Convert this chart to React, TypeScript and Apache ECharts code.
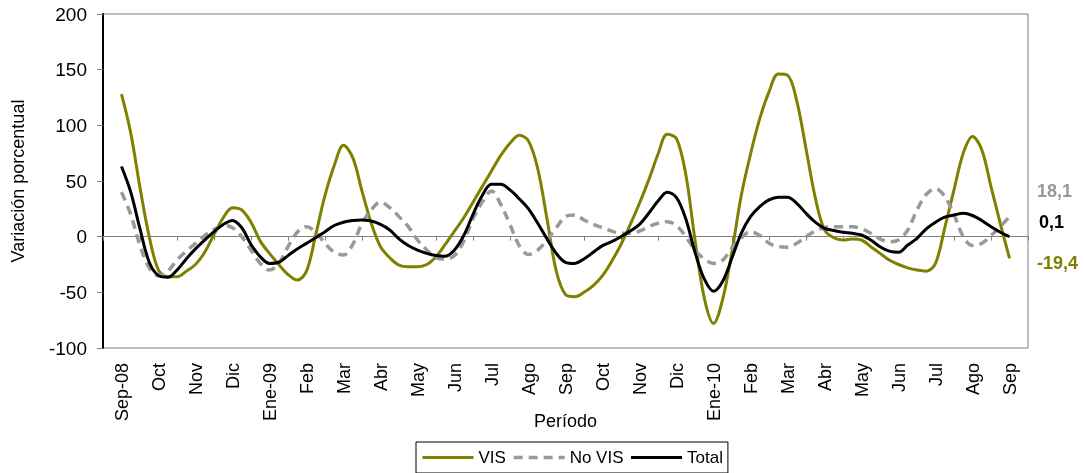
import { useEffect, useRef } from "react";
import * as echarts from "echarts";

// X-axis categories (months)
const months = [
  "Sep-08", "Oct", "Nov", "Dic", "Ene-09", "Feb", "Mar", "Abr", "May", "Jun", "Jul", "Ago",
  "Sep", "Oct", "Nov", "Dic", "Ene-10", "Feb", "Mar", "Abr", "May", "Jun", "Jul", "Ago", "Sep",
];

// Data points are spaced a quarter of a month apart (4 per month)
const STEP = 0.25;

const vis = [
  128, 93, 44, 0,
  -30, -36, -36, -31,
  -25, -14, 2, 17,
  26, 24, 13, -4,
  -15, -25, -34, -39,
  -31, 2, 37, 64,
  82, 71, 41, 12,
  -9, -19, -25.5, -27,
  -27, -25, -18, -7,
  5, 17, 31, 45,
  59, 73, 84, 91,
  86, 61, 16, -31,
  -52, -54, -50, -44,
  -35, -22, -7, 11,
  30, 51, 74, 92,
  88, 56, -3, -55,
  -78, -56, -13, 37,
  74, 106, 130, 146,
  145, 122, 79, 35,
  6, -1, -3, -2,
  -3, -9, -15, -21,
  -25, -28, -30, -31,
  -24, 8, 42, 75,
  90, 78, 45, 12,
  -19.4,
];

const noVis = [
  40, 20, -8, -28,
  -35, -31, -21, -13,
  -6, 1, 6.5, 10,
  8, 0, -12, -24,
  -30, -24, -9, 4,
  9, 4, -6, -14,
  -16.5, -7, 12, 24,
  31, 26, 18, 9,
  -3, -12, -19, -20,
  -17, -4, 16, 31,
  41, 29, 11, -8,
  -16, -12, -3, 8,
  18, 19.5, 15, 11,
  8, 5, 3, 3,
  5, 9, 12, 13.5,
  10, 0, -12, -20,
  -24, -21, -10, -1,
  4.5, 1, -6, -9,
  -9.5, -6, 0, 5,
  8, 9, 9, 9,
  7, 3, -2, -4.5,
  -3, 6, 24, 38,
  43, 36, 20, 0,
  -8, -6, 1, 9,
  18.1,
];

const total = [
  63, 40, 7, -23,
  -35, -36.5, -30, -20,
  -11, -3, 4.5, 11,
  14.5, 8, -7, -18,
  -24, -23, -17, -11,
  -6, -1, 4.5, 10,
  13, 14.5, 15, 14,
  11, 6, -2, -8,
  -12, -15, -17, -17.5,
  -12, 1, 20, 37,
  47, 47, 42, 34,
  25, 12, -2, -15,
  -23, -24, -20, -14,
  -8, -4.5, 0, 5,
  11, 21, 32, 40,
  35, 16, -14, -38,
  -49, -40, -19, 3,
  18, 27, 33, 35.5,
  35.5, 30, 21, 13,
  7.5, 5.5, 4, 3,
  1.5, -3, -9, -13,
  -14, -7.5, -1.5, 7,
  13, 17.5, 19.5, 21,
  19, 14.5, 9, 4,
  0.1,
];

const seriesNames = ["VIS", "No VIS", "Total"];
const lastValues = ["18,1", "0,1", "-19,4"];

const FONT = "'Liberation Sans', Arial, sans-serif";
const OLIVE = "#808000";
const GRAY = "#999999";

export default function App() {
  const ref = useRef<HTMLDivElement>(null);

  useEffect(() => {
    if (!ref.current) return;
    const chart = echarts.init(ref.current, null, { renderer: "svg" });
    const toPts = (arr: number[]) => arr.map((v, i) => [i * STEP, v]);

    const lineSeries = (name: string, arr: number[], lineStyle: any) => ({
      name,
      type: "line",
      xAxisIndex: 2,
      data: toPts(arr),
      smooth: 0.35,
      symbol: "none",
      showSymbol: false,
      lineStyle,
      itemStyle: { color: lineStyle.color },
    });

    chart.setOption({
      animation: false,
      textStyle: { fontFamily: FONT },
      grid: {
        left: 103,
        top: 14,
        width: 925,
        height: 334,
        show: true,
        borderColor: "#808080",
        borderWidth: 1,
      },
      legend: {
        data: seriesNames,
        left: 416,
        top: 442,
        itemWidth: 51,
        itemHeight: 14,
        itemGap: 6,
        padding: [7, 5, 7, 5],
        borderColor: "#000",
        borderWidth: 1,
        borderRadius: 0,
        itemStyle: { opacity: 0 },
        lineStyle: { width: "inherit" },
        textStyle: { fontSize: 17, color: "#000", fontFamily: FONT },
      },
      xAxis: [
        {
          type: "category",
          data: months,
          boundaryGap: true,
          position: "bottom",
          axisLine: { show: false, onZero: false },
          axisTick: { show: false },
          axisLabel: { rotate: 90, margin: 15, fontSize: 18, color: "#000", fontFamily: FONT, interval: 0 },
          splitLine: { show: false },
          name: "Período",
          nameLocation: "middle",
          nameGap: 64,
          nameMoveOverlap: false,
          nameTextStyle: { fontSize: 18, color: "#000", fontFamily: FONT },
        },
        {
          type: "category",
          data: months,
          boundaryGap: true,
          position: "bottom",
          axisLine: { show: true, onZero: true, lineStyle: { color: "#808080", width: 1 } },
          axisTick: { show: true, inside: false, length: 4, interval: 0, lineStyle: { color: "#808080" } },
          axisLabel: { show: false },
          splitLine: { show: false },
        },
        {
          type: "value",
          min: -0.5,
          max: months.length - 0.5,
          show: false,
        },
      ],
      yAxis: {
        type: "value",
        min: -100,
        max: 200,
        interval: 50,
        axisLine: { show: true, onZero: false, lineStyle: { color: "#000", width: 2 } },
        axisTick: { show: true, length: 6, lineStyle: { color: "#808080" } },
        axisLabel: { fontSize: 19, color: "#000", margin: 16, fontFamily: FONT },
        splitLine: { show: false },
        name: "Variación porcentual",
        nameLocation: "middle",
        nameGap: 76,
        nameMoveOverlap: false,
        nameTextStyle: { fontSize: 18, color: "#000", fontFamily: FONT },
      },
      series: [
        lineSeries(seriesNames[0], vis, { color: OLIVE, width: 3 }),
        lineSeries(seriesNames[1], noVis, { color: GRAY, width: 3.5, type: [9, 6] }),
        lineSeries(seriesNames[2], total, { color: "#000", width: 3 }),
      ],
      graphic: [
        {
          type: "text",
          x: 1037,
          y: 191,
          style: { text: lastValues[0], fill: GRAY, fontSize: 18, fontWeight: "bold", fontFamily: FONT, verticalAlign: "middle" },
        },
        {
          type: "text",
          x: 1039,
          y: 222,
          style: { text: lastValues[1], fill: "#000", fontSize: 18, fontWeight: "bold", fontFamily: FONT, verticalAlign: "middle" },
        },
        {
          type: "text",
          x: 1037,
          y: 263,
          style: { text: lastValues[2], fill: OLIVE, fontSize: 18, fontWeight: "bold", fontFamily: FONT, verticalAlign: "middle" },
        },
      ],
    });

    return () => chart.dispose();
  }, []);

  return <div ref={ref} style={{ position: "fixed", left: 0, top: 0, width: 1084, height: 473 }} />;
}
